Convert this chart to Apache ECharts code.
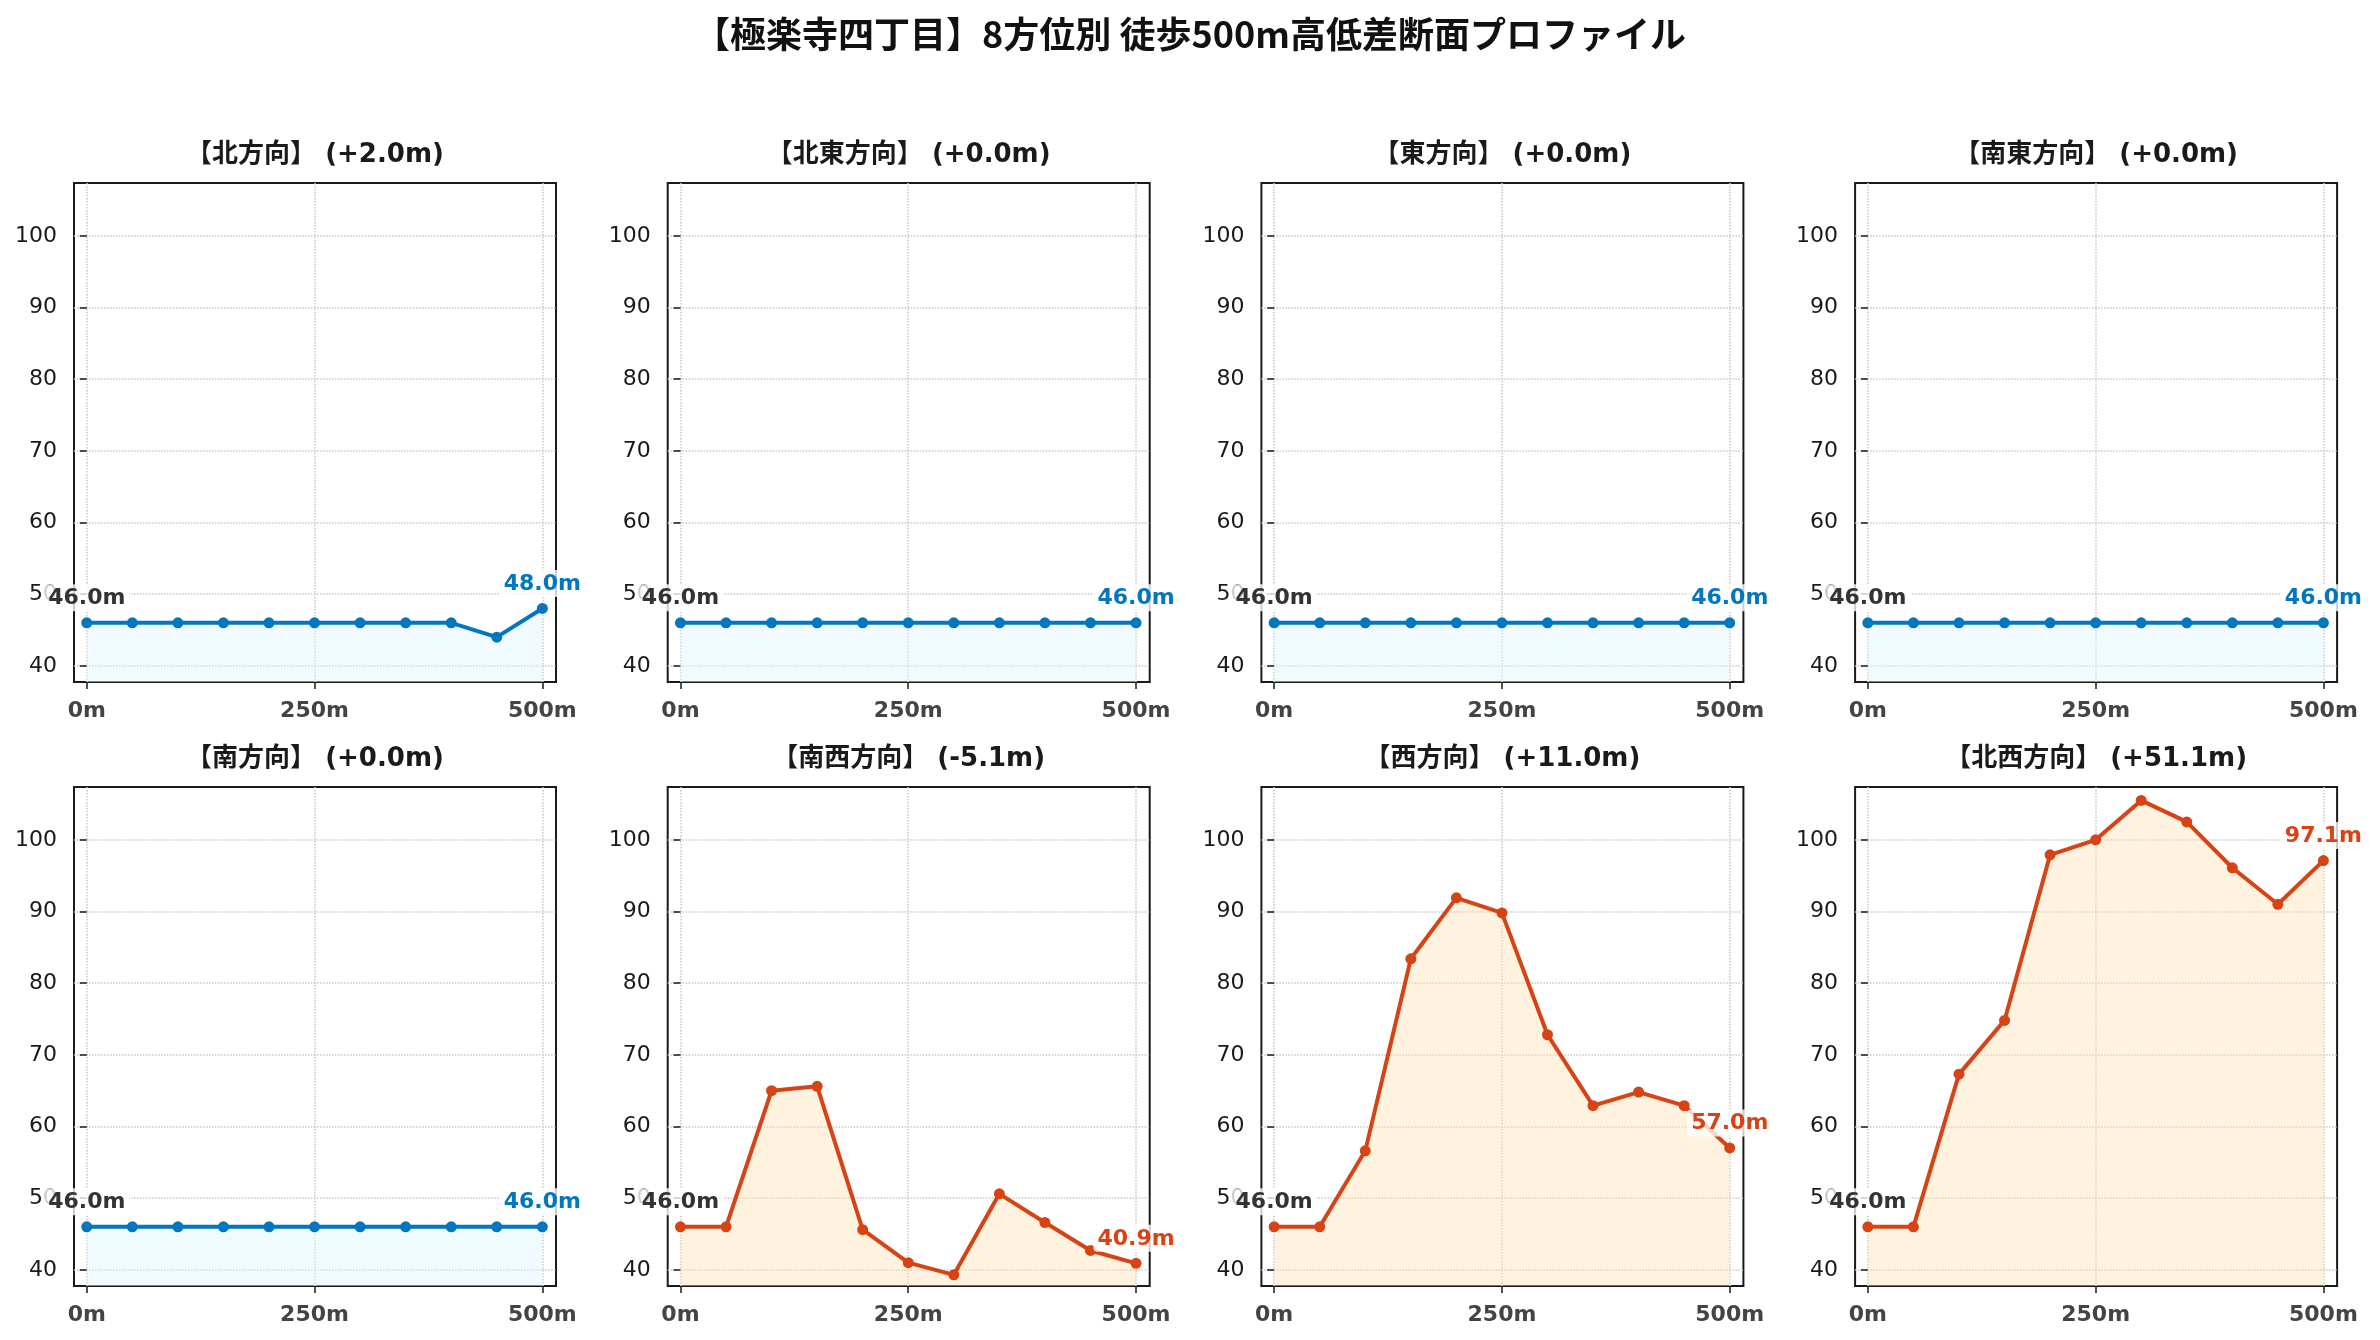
<!DOCTYPE html>
<html>
<head>
<meta charset="utf-8">
<script src="https://cdn.jsdelivr.net/npm/echarts@6/dist/echarts.min.js"></script>
<style>
html, body { margin: 0; padding: 0; background: #fff; }
#chart { width: 2380px; height: 1340px; }
</style>
</head>
<body>
<div id="chart"></div>
<script>
// data
var mainTitle = '【極楽寺四丁目】8方位別 徒歩500m高低差断面プロファイル';
var directions = ['北方向', '北東方向', '東方向', '南東方向', '南方向', '南西方向', '西方向', '北西方向'];
var distances = [0, 50, 100, 150, 200, 250, 300, 350, 400, 450, 500];
var north     = [46, 46, 46, 46, 46, 46, 46, 46, 46, 44.0, 48.0];
var northeast = [46, 46, 46, 46, 46, 46, 46, 46, 46, 46, 46];
var east      = [46, 46, 46, 46, 46, 46, 46, 46, 46, 46, 46];
var southeast = [46, 46, 46, 46, 46, 46, 46, 46, 46, 46, 46];
var south     = [46, 46, 46, 46, 46, 46, 46, 46, 46, 46, 46];
var southwest = [46, 46, 65.0, 65.6, 45.6, 41.0, 39.3, 50.6, 46.6, 42.7, 40.9];
var west      = [46, 46, 56.6, 83.4, 91.9, 89.8, 72.8, 62.9, 64.8, 62.9, 57.0];
var northwest = [46, 46, 67.3, 74.8, 97.9, 100.0, 105.5, 102.5, 96.1, 91.0, 97.1];
var xTicks = [0, 250, 500];
var yTicks = [40, 50, 60, 70, 80, 90, 100];

var profiles = [north, northeast, east, southeast, south, southwest, west, northwest];

var BLUE = '#0277BD', RED = '#D84315';
var chart = echarts.init(document.getElementById('chart'));

var grids = [], xAxes = [], yAxes = [], series = [];
var titles = [{
    text: mainTitle, left: 'center', top: 16, padding: 0,
    textStyle: { fontFamily: '"Noto Sans CJK JP"', fontSize: 36, fontWeight: 'bold', color: '#111' }
}];

profiles.forEach(function (vals, i) {
    var col = i % 4, row = Math.floor(i / 4);
    var left = 74 + col * 593.7, top = 183 + row * 604;
    var first = vals[0], last = vals[vals.length - 1];
    var diff = last - first;
    // steep profiles are drawn in red, flat ones in blue
    var rough = Math.max.apply(null, vals) - Math.min.apply(null, vals) > 5;
    var lineColor = rough ? RED : BLUE;
    var fillColor = rough ? 'rgba(255,224,178,0.6)' : 'rgba(225,245,254,0.7)';

    grids.push({ left: left, top: top, width: 482, height: 499, show: true,
        borderColor: '#1a1a1a', borderWidth: 2, backgroundColor: 'transparent' });

    titles.push({
        text: '【' + directions[i] + '】 (' + (diff >= 0 ? '+' : '') + diff.toFixed(1) + 'm)',
        left: left + 241, top: top - 41, textAlign: 'center', padding: 0,
        textStyle: { fontFamily: '"DejaVu Sans", "Noto Sans CJK JP"', fontSize: 26, fontWeight: 'bold', color: '#1a1a1a' }
    });

    xAxes.push({
        type: 'value', gridIndex: i, min: -14, max: 515,
        axisLine: { show: false },
        axisTick: { show: true, customValues: xTicks, length: 7, lineStyle: { color: '#1a1a1a', width: 1.5 } },
        axisLabel: { customValues: xTicks, formatter: function (v) { return v + 'm'; },
            fontFamily: 'DejaVu Sans', fontSize: 22, fontWeight: 'bold', color: '#444', margin: 18 },
        splitLine: { show: true, lineStyle: { color: '#c8c8c8', type: 'dotted', width: 1.5 } }
    });

    yAxes.push({
        type: 'value', gridIndex: i, min: 37.74, max: 107.37,
        axisLine: { show: false },
        axisTick: { show: true, customValues: yTicks, length: 7, lineStyle: { color: '#1a1a1a', width: 1.5 } },
        axisLabel: { customValues: yTicks, fontFamily: 'DejaVu Sans', fontSize: 22, color: '#1a1a1a', margin: 17 },
        splitLine: { show: true, lineStyle: { color: '#c8c8c8', type: 'dotted', width: 1.5 } }
    });

    var data = distances.map(function (d, k) {
        var item = { value: [d, vals[k]] };
        if (k === 0) item.label = { show: true, color: '#333' };
        if (k === vals.length - 1) item.label = { show: true, color: lineColor };
        return item;
    });

    series.push({
        type: 'line', xAxisIndex: i, yAxisIndex: i, data: data,
        symbol: 'circle', symbolSize: 11, showAllSymbol: true,
        lineStyle: { color: lineColor, width: 4 },
        itemStyle: { color: lineColor },
        areaStyle: { color: fillColor, origin: 'start' },
        label: {
            show: false, position: 'top', distance: 6,
            fontFamily: 'DejaVu Sans', fontSize: 22, fontWeight: 'bold',
            backgroundColor: 'rgba(255,255,255,0.78)', padding: [3, 4, 2, 4], borderRadius: 4,
            formatter: function (p) { return p.value[1].toFixed(1) + 'm'; }
        },
        emphasis: { disabled: true },
        animation: false
    });
});

chart.setOption({
    backgroundColor: '#fff',
    animation: false,
    title: titles,
    grid: grids,
    xAxis: xAxes,
    yAxis: yAxes,
    series: series
});
</script>
</body>
</html>
